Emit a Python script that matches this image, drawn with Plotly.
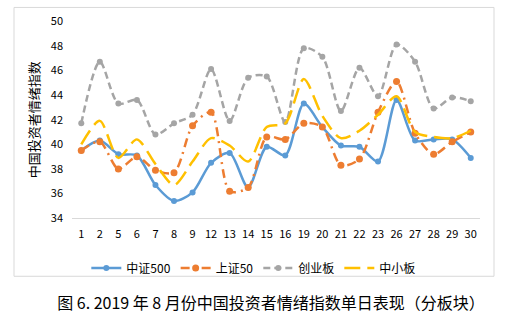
import plotly.graph_objects as go

days = ["1", "2", "5", "6", "7", "8", "9", "12", "13", "14", "15", "16",
        "19", "20", "21", "22", "23", "26", "27", "28", "29", "30"]
zz500 = [39.5, 40.3, 39.2, 39.1, 36.7, 35.4, 36.1, 38.5, 39.3, 36.5, 39.8, 39.1,
         43.3, 41.4, 39.9, 39.8, 38.6, 43.6, 40.3, 40.4, 40.4, 38.9]
sz50 = [39.5, 40.2, 38.0, 39.0, 37.9, 37.7, 41.5, 42.6, 36.2, 36.5, 40.6, 40.4,
        41.7, 41.4, 38.3, 38.8, 42.6, 45.1, 40.9, 39.2, 40.2, 41.0]
cyb = [41.7, 46.7, 43.3, 43.6, 40.8, 41.7, 42.4, 46.1, 41.9, 45.4, 45.5, 41.8,
       47.8, 47.1, 42.7, 46.2, 43.9, 48.1, 46.7, 42.9, 43.8, 43.5]
zxb = [40.0, 41.9, 38.9, 40.4, 38.4, 36.7, 38.6, 40.5, 39.9, 38.6, 41.4, 41.7,
       45.3, 42.3, 40.5, 41.1, 42.4, 43.9, 41.0, 40.6, 40.5, 41.1]

names = ["中证500", "上证50", "创业板", "中小板"]
yticks = [34, 36, 38, 40, 42, 44, 46, 48, 50]

FONT = "Noto Sans CJK SC"
fig = go.Figure()
fig.add_trace(go.Scatter(x=days, y=zz500, name=names[0], mode="lines+markers",
                         line=dict(color="#5B9BD5", width=2.5, shape="spline", smoothing=0.8),
                         marker=dict(size=6, color="#5B9BD5")))
fig.add_trace(go.Scatter(x=days, y=sz50, name=names[1], mode="lines+markers",
                         line=dict(color="#ED7D31", width=2.5, shape="spline", smoothing=0.8,
                                   dash="9px,5px,2px,5px"),
                         marker=dict(size=7, color="#ED7D31")))
fig.add_trace(go.Scatter(x=days, y=cyb, name=names[2], mode="lines+markers",
                         line=dict(color="#A5A5A5", width=2.5, shape="spline", smoothing=0.8,
                                   dash="7px,4px"),
                         marker=dict(size=6, color="#A5A5A5")))
fig.add_trace(go.Scatter(x=days, y=zxb, name=names[3], mode="lines",
                         line=dict(color="#FFC000", width=2.5, shape="spline", smoothing=0.8,
                                   dash="16px,7px")))

# outer frame
fig.add_shape(type="rect", xref="paper", yref="paper",
              x0=(14 - 72) / 408, x1=(494 - 72) / 408,
              y0=(226 - 288) / 211, y1=(226 - 0.5) / 211,
              line=dict(color="#D9D9D9", width=1), fillcolor="rgba(0,0,0,0)", layer="below")

fig.update_layout(
    width=531, height=323,
    margin=dict(l=72, r=51, t=15, b=97),
    paper_bgcolor="white", plot_bgcolor="white",
    font=dict(family=FONT, size=11, color="#000000"),
    showlegend=True,
    legend=dict(orientation="h", xref="container", yref="container",
                x=0.478, xanchor="center", y=1 - 268 / 323, yanchor="middle",
                font=dict(size=12, family=FONT), itemwidth=30, tracegroupgap=0,
                bgcolor="rgba(0,0,0,0)"),
    title=dict(text="图 6. 2019 年 8 月份中国投资者情绪指数单日表现（分板块）",
               xref="container", yref="container", x=271 / 531, xanchor="center",
               y=1 - 303 / 323, yanchor="middle",
               font=dict(size=16, family=FONT, color="#000000")),
    xaxis=dict(type="category", showgrid=False, showline=True, linecolor="#D9D9D9",
               linewidth=1, ticks="", tickfont=dict(size=11), ticklabelstandoff=6,
               range=[-0.5, len(days) - 0.5], zeroline=False),
    yaxis=dict(range=[34, 50], tickvals=yticks, showgrid=False, showline=False,
               zeroline=False, ticks="", tickfont=dict(size=11), ticklabelstandoff=8,
               title=dict(text="中国投资者情绪指数", font=dict(size=13, family=FONT),
                          standoff=8)),
)

fig.write_html("out.html")
